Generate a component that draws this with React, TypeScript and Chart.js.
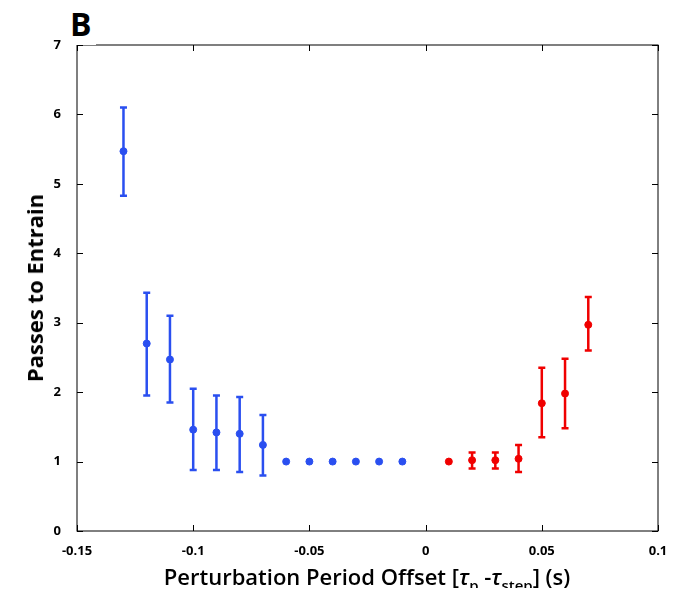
import React, { useEffect, useRef } from "react";
import { Chart, registerables } from "chart.js";

Chart.register(...registerables);

const blueX = [-0.13, -0.12, -0.11, -0.1, -0.09, -0.08, -0.07, -0.06, -0.05, -0.04, -0.03, -0.02, -0.01];
const blueY = [5.47, 2.7, 2.47, 1.46, 1.42, 1.4, 1.24, 1.0, 1.0, 1.0, 1.0, 1.0, 1.0];
const blueLo = [4.83, 1.95, 1.85, 0.88, 0.88, 0.85, 0.8, 1.0, 1.0, 1.0, 1.0, 1.0, 1.0];
const blueHi = [6.1, 3.43, 3.1, 2.05, 1.95, 1.93, 1.67, 1.0, 1.0, 1.0, 1.0, 1.0, 1.0];

const redX = [0.01, 0.02, 0.03, 0.04, 0.05, 0.06, 0.07];
const redY = [1.0, 1.02, 1.02, 1.04, 1.84, 1.98, 2.97];
const redLo = [1.0, 0.9, 0.9, 0.85, 1.35, 1.48, 2.6];
const redHi = [1.0, 1.13, 1.13, 1.24, 2.35, 2.48, 3.37];

const BLUE = "#2a4ff0";
const RED = "#f00000";

const errorBars = {
  id: "errorBars",
  afterDatasetsDraw(chart: any) {
    const { ctx, scales } = chart;
    const draw = (xs: number[], lo: number[], hi: number[], color: string) => {
      ctx.save();
      ctx.strokeStyle = color;
      ctx.lineWidth = 2.5;
      xs.forEach((x, i) => {
        if (hi[i] === lo[i]) return;
        const px = scales.x.getPixelForValue(x);
        const pl = scales.y.getPixelForValue(lo[i]);
        const ph = scales.y.getPixelForValue(hi[i]);
        ctx.beginPath();
        ctx.moveTo(px, pl);
        ctx.lineTo(px, ph);
        ctx.moveTo(px - 3.5, pl);
        ctx.lineTo(px + 3.5, pl);
        ctx.moveTo(px - 3.5, ph);
        ctx.lineTo(px + 3.5, ph);
        ctx.stroke();
      });
      ctx.restore();
    };
    draw(blueX, blueLo, blueHi, BLUE);
    draw(redX, redLo, redHi, RED);
  },
};

const frame = {
  id: "frame",
  afterDraw(chart: any) {
    const { ctx, chartArea: a, scales } = chart;
    ctx.save();
    ctx.strokeStyle = "#000";
    ctx.lineWidth = 1;
    ctx.strokeRect(a.left, a.top, a.right - a.left, a.bottom - a.top);
    ctx.beginPath();
    scales.x.ticks.forEach((t: any) => {
      const px = Math.round(scales.x.getPixelForValue(t.value)) + 0.5;
      ctx.moveTo(px, a.bottom);
      ctx.lineTo(px, a.bottom - 6);
      ctx.moveTo(px, a.top);
      ctx.lineTo(px, a.top + 6);
    });
    scales.y.ticks.forEach((t: any) => {
      const py = Math.round(scales.y.getPixelForValue(t.value)) + 0.5;
      ctx.moveTo(a.left, py);
      ctx.lineTo(a.left + 6, py);
      ctx.moveTo(a.right, py);
      ctx.lineTo(a.right - 6, py);
    });
    ctx.stroke();
    ctx.restore();
  },
};

const App = () => {
  const chartRef = useRef<HTMLCanvasElement | null>(null);

  useEffect(() => {
    if (!chartRef.current) return;
    const ctx = chartRef.current.getContext("2d");
    if (!ctx) return;
    const font = { family: "Open Sans", size: 13, weight: "bold" as const };
    const myChart = new Chart(ctx, {
      type: "scatter",
      data: {
        datasets: [
          {
            data: blueX.map((x, i) => ({ x, y: blueY[i] })),
            backgroundColor: BLUE,
            borderColor: BLUE,
            pointRadius: 3.5,
          },
          {
            data: redX.map((x, i) => ({ x, y: redY[i] })),
            backgroundColor: RED,
            borderColor: RED,
            pointRadius: 3.5,
          },
        ],
      },
      options: {
        responsive: false,
        animation: false,
        layout: { padding: { top: 45, right: 31, left: 0, bottom: 0 } },
        plugins: { legend: { display: false }, tooltip: { enabled: false } },
        scales: {
          x: {
            min: -0.15,
            max: 0.1,
            grid: { display: false },
            border: { display: false },
            afterFit: (s: any) => { s.height = 65; },
            ticks: {
              stepSize: 0.05,
              color: "#000",
              font,
              padding: 4,
              maxRotation: 0,
              callback: (v: any) => String(Number(Number(v).toFixed(2))),
            },
          },
          y: {
            min: 0,
            max: 7,
            grid: { display: false },
            border: { display: false },
            afterFit: (s: any) => { s.width = 77; },
            ticks: { stepSize: 1, color: "#000", font, padding: 8 },
          },
        },
      },
      plugins: [errorBars, frame],
    });
    return () => myChart.destroy();
  }, []);

  return (
    <div style={{ position: "relative", width: 689, height: 596, margin: -8, background: "#fff", fontFamily: "Open Sans, sans-serif" }}>
      <canvas ref={chartRef} width={689} height={596} />
      <div style={{ position: "absolute", left: 66, top: 2, fontSize: 32, fontWeight: "bold", background: "#fff", padding: "0 4px" }}>B</div>
      <div style={{ position: "absolute", left: 34, top: 288, transform: "translate(-50%,-50%) rotate(-90deg)", fontSize: 22, fontWeight: "bold", whiteSpace: "nowrap" }}>
        Passes to Entrain
      </div>
      <div style={{ position: "absolute", left: 367, top: 578, transform: "translate(-50%,-50%)", fontSize: 22, whiteSpace: "nowrap", fontWeight: 600 }}>
        Perturbation Period Offset [<i>τ</i><sub style={{ fontSize: 15 }}>p</sub> -<i>τ</i><sub style={{ fontSize: 15 }}>step</sub>] (s)
      </div>
    </div>
  );
};

export default App;
